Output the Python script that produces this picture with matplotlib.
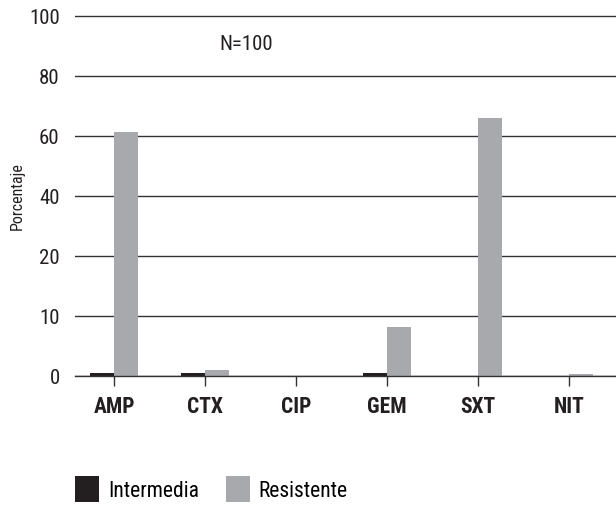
import matplotlib
matplotlib.use("Agg")
import matplotlib.pyplot as plt
import numpy as np
from matplotlib.patches import Patch

categories = ["AMP", "CTX", "CIP", "GEM", "SXT", "NIT"]
intermedia = [0.5, 0.5, 0, 0.5, 0, 0]
resistente = [61.3, 1.0, 0, 8.2, 66, 0.4]
yticks = [0, 10, 20, 40, 60, 80, 100]

plt.rcParams['font.family'] = ['Roboto Condensed', 'DejaVu Sans']

def fwd(v):
    v = np.asarray(v, dtype=float)
    return np.where(v <= 20, v / 10.0, 2 + (v - 20) / 20.0)

def inv(u):
    u = np.asarray(u, dtype=float)
    return np.where(u <= 2, u * 10.0, 20 + (u - 2) * 20.0)

W, H = 616, 506
fig = plt.figure(figsize=(W / 100, H / 100), dpi=100)
top_px = 377 - 6.1 * 60
ax = fig.add_axes([75 / W, (H - 377) / H, (W - 75) / W, (377 - top_px) / H])
ax.set_yscale('function', functions=(fwd, inv))
ax.set_ylim(0, 102)
ax.set_xlim(-0.43, 5.52)

x = np.arange(len(categories))
bw = 0.264
c_int = '#231f20'
c_res = '#a7a9ac'
ax.bar(x - bw / 2, intermedia, bw, color=c_int, zorder=3)
ax.bar(x + bw / 2, resistente, bw, color=c_res, zorder=3)

ax.set_yticks(yticks)
ax.set_yticklabels([str(t) for t in yticks], fontsize=15, color='#231f20')
ax.tick_params(axis='y', length=0, pad=11)
ax.yaxis.grid(True, color='#333333', linewidth=1.0, zorder=1)
ax.set_axisbelow(True)

ax.set_xticks(x)
ax.set_xticklabels(categories, fontsize=15.5, fontweight='bold', color='#231f20')
ax.tick_params(axis='x', length=7.5, width=1.0, color='#333333', direction='out', pad=6)

for s in ['left', 'right', 'top']:
    ax.spines[s].set_visible(False)
ax.spines['bottom'].set_color('#333333')
ax.spines['bottom'].set_linewidth(1.0)
ax.spines['bottom'].set_zorder(4)

ax.text(246, H - 45, "N=100", transform=None, fontsize=15, ha='center', va='center', color='#231f20')
fig.text(17 / W, (H - 196) / H, "Porcentaje", rotation=90, fontsize=11.5, ha='center', va='center', color='#231f20')

handles = [Patch(facecolor=c_int, edgecolor='none', label='Intermedia'),
           Patch(facecolor=c_res, edgecolor='none', label='Resistente')]
fig.legend(handles=handles, loc='center left', bbox_to_anchor=(75 / W, (H - 490) / H),
           ncol=2, frameon=False, fontsize=15.5, handlelength=1.11, handleheight=1.47,
           handletextpad=0.42, columnspacing=1.25, borderaxespad=0, borderpad=0)

fig.savefig("out.png", dpi=100)
